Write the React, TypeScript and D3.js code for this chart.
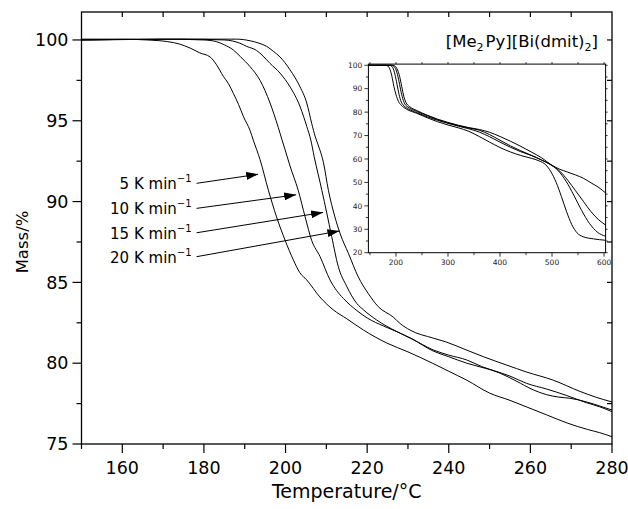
import React from "react";
import * as d3 from "d3";

// ---------- data ----------
const seriesNames = ["5 K min", "10 K min", "15 K min", "20 K min"];

const main5: [number, number][] = [[150,100.05],[160,100.05],[166,100.0],[171,99.9],[174,99.75],[176.6,99.5],[179,99.2],[181.5,98.95],[183,98.5],[184.75,97.75],[186,97.3],[187.2,96.7],[188.5,96.0],[189.7,95.25],[191.3,94.4],[192.1,93.8],[193.75,92.6],[195.8,90.7],[197.8,89.05],[199.9,87.6],[201.9,86.4],[203.5,85.6],[205.2,85.15],[208.4,84.1],[211.7,83.3],[215,82.75],[219.1,82.05],[224.8,81.25],[230,80.7],[236,80.0],[240,79.5],[244.4,78.95],[250,78.15],[255,77.7],[259,77.3],[264,76.8],[269,76.3],[274,75.9],[277,75.7],[280,75.45]];
const main10: [number, number][] = [[150,100.0],[170,100.05],[180,100.0],[183,99.9],[185,99.7],[187.2,99.38],[189,98.95],[191.3,98.35],[193.75,97.5],[196.2,96.1],[198.2,94.6],[199.1,93.85],[199.9,93.2],[201.1,92.2],[203.1,90.7],[204.8,89.05],[206.4,87.6],[208.45,86.6],[210.9,85.15],[212.5,84.5],[214.2,84.0],[217.5,83.25],[220,82.8],[224,82.3],[227.3,81.95],[231,81.5],[236.2,80.75],[240,80.4],[244.4,80.0],[250.9,79.55],[255,79.2],[259.1,78.75],[264,78.4],[268.9,78.0],[273.8,77.55],[277,77.3],[280,77.0]];
const main15: [number, number][] = [[150,100.0],[175,100.05],[185,100.0],[188.8,99.8],[190.5,99.6],[192.9,99.35],[194.5,99.0],[196.2,98.55],[198.65,97.95],[201.1,97.1],[203.6,95.85],[205.2,94.65],[206.2,93.8],[207.0,92.8],[208.9,90.7],[210.1,89.3],[211.3,87.85],[212.9,86.0],[215,84.75],[217.45,83.7],[219.1,83.3],[222.35,82.67],[227.3,81.95],[231,81.5],[236.2,80.82],[240,80.5],[244.4,80.2],[248,79.8],[252.6,79.38],[256.5,78.9],[260.7,78.35],[264,78.05],[267,77.9],[269.7,77.83],[273.8,77.6],[277,77.35],[280,77.1]];
const main20: [number, number][] = [[150,100.0],[180,100.05],[188,100.05],[191.3,99.95],[193.5,99.8],[195.4,99.6],[197,99.3],[198.65,98.95],[201.1,98.15],[203.55,97.1],[205.2,96.1],[206.4,94.85],[207.3,94.0],[208.0,93.5],[209.3,92.4],[210.5,90.7],[212.1,89.05],[213.4,88.0],[215.4,86.8],[217.8,85.35],[220.3,84.3],[222.7,83.5],[226.4,82.85],[228.1,82.45],[230.5,82.05],[236.2,81.55],[239.5,81.3],[244,80.85],[248.5,80.4],[254,79.9],[259.1,79.45],[265.6,78.95],[272.2,78.25],[276,77.9],[280,77.6]];

const inset5: [number, number][] = [[147,100],[180,100],[185,99.6],[188,98.5],[192,95.5],[196,91],[200,87.5],[205,84.5],[210,83],[220,81.3],[240,79.5],[260,77.6],[280,75.9],[300,74.5],[320,73.3],[340,71.8],[360,69.6],[380,67.2],[400,64.9],[420,63],[440,61.5],[460,60.3],[475,59.2],[488,57.5],[498,54.5],[508,50],[518,44],[528,37.5],[538,32],[548,28.5],[560,26.8],[580,25.9],[603,25.3]];
const inset10: [number, number][] = [[147,100],[188,100],[193,99.3],[197,97],[201,93],[205,88.5],[209,85],[214,83],[222,81.6],[240,79.8],[260,78],[280,76.5],[300,75.2],[320,74],[340,72.9],[360,71.5],[380,69.5],[400,67.2],[420,65],[440,63.1],[460,61.5],[480,59.5],[497,57.6],[512,55],[527,50.5],[542,44.5],[557,38],[572,32.5],[587,28.8],[603,27]];
const inset15: [number, number][] = [[147,100],[192,100],[197,99.3],[201,97.5],[205,94],[209,89.5],[213,85.8],[217,83.5],[225,81.9],[240,80.3],[260,78.5],[280,76.8],[300,75.4],[320,74.2],[340,73.2],[360,72.3],[380,70.4],[400,68],[420,65.6],[440,63.5],[460,61.6],[480,59.6],[498,57.5],[515,54.8],[530,51],[545,46.5],[560,42],[575,37.5],[590,34],[603,31.8]];
const inset20: [number, number][] = [[147,100],[194,100],[199,99.5],[203,98],[207,95.3],[211,91],[215,86.8],[219,84.2],[226,82.4],[240,80.7],[260,78.7],[280,77],[300,75.6],[320,74.4],[340,73.4],[360,72.6],[380,71.4],[400,69.6],[420,67.6],[440,65.4],[460,63],[480,60.5],[498,57.6],[515,55.6],[530,54.4],[545,53.2],[560,51.8],[575,49.8],[590,47.8],[603,45.5]];

// arrow annotations: [startT, startM, tipT, tipM]
const arrowData: [number, number, number, number][] = [
  [178.2, 91.13, 193.3, 91.69],
  [178.2, 89.58, 202.6, 90.42],
  [178.2, 88.07, 209.2, 89.33],
  [178.2, 86.59, 213.2, 88.18],
];

const xTicksMain = [160, 180, 200, 220, 240, 260, 280];
const yTicksMain = [75, 80, 85, 90, 95, 100];
const xTicksInset = [200, 300, 400, 500, 600];
const yTicksInset = [20, 30, 40, 50, 60, 70, 80, 90, 100];

const FONT = "'DejaVu Sans', sans-serif";

export default function App() {
  const L = 81.5, R = 612, T = 12, B = 444;
  const x = d3.scaleLinear().domain([150, 280]).range([L, R]);
  const y = d3.scaleLinear().domain([75, 101.73]).range([B, T]);
  const iL = 368.4, iR = 605.6, iT = 64.1, iB = 252.7;
  const ix = d3.scaleLinear().domain([147, 603]).range([iL, iR]);
  const iy = d3.scaleLinear().domain([20, 100.5]).range([iB, iT]);

  const line = d3.line<[number, number]>().x(d => x(d[0])).y(d => y(d[1])).curve(d3.curveMonotoneX);
  const iline = d3.line<[number, number]>().x(d => ix(d[0])).y(d => iy(d[1])).curve(d3.curveMonotoneX);

  const mainSeries = [main5, main10, main15, main20];
  const insetSeries = [inset5, inset10, inset15, inset20];

  const minorY = d3.range(77.5, 100, 5);
  const minorX = [150, 170, 190, 210, 230, 250, 270];
  const topTicks = d3.range(160, 280, 10);
  const rightTicks = d3.range(77.5, 101, 2.5);

  const iMinorY = d3.range(25, 100, 10);
  const iMinorX = [150, 250, 350, 450, 550];
  const iTop = d3.range(150, 601, 50);
  const iRight = d3.range(20, 101, 5);

  return (
    <svg width={628} height={509} style={{ position: "absolute", left: 0, top: 0, background: "#fff" }} fontFamily={FONT}>
      <defs>
        <marker id="ah" viewBox="0 0 12 8" refX="12" refY="4" markerWidth="12" markerHeight="8" markerUnits="userSpaceOnUse" orient="auto">
          <path d="M0,0 L12,4 L0,8 Z" fill="#000" />
        </marker>
      </defs>
      <rect x={0} y={0} width={628} height={509} fill="#fff" />

      <g fill="none" stroke="#000" strokeWidth={1}>
        {mainSeries.map((s, i) => <path key={i} d={line(s) || ""} />)}
      </g>

      <rect x={L} y={T} width={R - L} height={B - T} fill="none" stroke="#000" strokeWidth={1.3} />

      <g stroke="#000" strokeWidth={1.2}>
        {yTicksMain.map(v => <line key={"yl" + v} x1={L - 9} x2={L} y1={y(v)} y2={y(v)} />)}
        {minorY.map(v => <line key={"ym" + v} x1={L - 5} x2={L} y1={y(v)} y2={y(v)} />)}
        {xTicksMain.map(v => <line key={"xl" + v} x1={x(v)} x2={x(v)} y1={B} y2={B + 9} />)}
        {minorX.map(v => <line key={"xm" + v} x1={x(v)} x2={x(v)} y1={B} y2={B + 5} />)}
        {topTicks.map(v => <line key={"xt" + v} x1={x(v)} x2={x(v)} y1={T} y2={T + 5} />)}
        {rightTicks.map(v => <line key={"yr" + v} x1={R - 5} x2={R} y1={y(v)} y2={y(v)} />)}
      </g>
      <g fontSize={17.5} fill="#000">
        {yTicksMain.map(v => (
          <text key={"tyl" + v} x={L - 13} y={y(v) + 6.3} textAnchor="end">{v}</text>
        ))}
        {xTicksMain.map(v => (
          <text key={"txl" + v} x={x(v)} y={474} textAnchor="middle">{v}</text>
        ))}
      </g>
      <text x={(L + R) / 2} y={498} textAnchor="middle" fontSize={19}>Temperature/°C</text>
      <text transform={`translate(28,${(y(75) + y(100)) / 2}) rotate(-90)`} textAnchor="middle" fontSize={16.5}>Mass/%</text>

      {arrowData.map((a, i) => (
        <g key={"ar" + i}>
          <line x1={x(a[0])} y1={y(a[1])} x2={x(a[2])} y2={y(a[3])} stroke="#000" strokeWidth={1} markerEnd="url(#ah)" />
          <text x={x(a[0]) - 5} y={y(a[1]) + 6} textAnchor="end" fontSize={15}>
            {seriesNames[i]}
            <tspan fontSize={10} dy={-7}>−1</tspan>
          </text>
        </g>
      ))}

      <g fill="none" stroke="#000" strokeWidth={1}>
        {insetSeries.map((s, i) => <path key={"i" + i} d={iline(s) || ""} />)}
      </g>
      <rect x={iL} y={iT} width={iR - iL} height={iB - iT} fill="none" stroke="#000" strokeWidth={1} />
      <g stroke="#000" strokeWidth={0.8}>
        {yTicksInset.map(v => <line key={"iyl" + v} x1={iL - 4} x2={iL} y1={iy(v)} y2={iy(v)} />)}
        {iMinorY.map(v => <line key={"iym" + v} x1={iL - 2.5} x2={iL} y1={iy(v)} y2={iy(v)} />)}
        {xTicksInset.map(v => <line key={"ixl" + v} x1={ix(v)} x2={ix(v)} y1={iB} y2={iB + 4} />)}
        {iMinorX.map(v => <line key={"ixm" + v} x1={ix(v)} x2={ix(v)} y1={iB} y2={iB + 2.5} />)}
        {iTop.map(v => <line key={"ixt" + v} x1={ix(v)} x2={ix(v)} y1={iT} y2={iT - 2} />)}
        {iRight.map(v => <line key={"iyr" + v} x1={iR} x2={iR + 2} y1={iy(v)} y2={iy(v)} />)}
      </g>
      <g fontSize={7.5} fill="#222">
        {yTicksInset.map(v => (
          <text key={"ityl" + v} x={iL - 6} y={iy(v) + 2.7} textAnchor="end">{v}</text>
        ))}
        {xTicksInset.map(v => (
          <text key={"itxl" + v} x={ix(v)} y={iB + 12.5} textAnchor="middle">{v}</text>
        ))}
      </g>
      <text x={598} y={47} textAnchor="end" fontSize={16.5}>
        [Me<tspan fontSize={11} dy={4}>2</tspan>
        <tspan dy={-4} dx={2}>Py][Bi(dmit)</tspan>
        <tspan fontSize={11} dy={4}>2</tspan>
        <tspan dy={-4}>]</tspan>
      </text>
    </svg>
  );
}
